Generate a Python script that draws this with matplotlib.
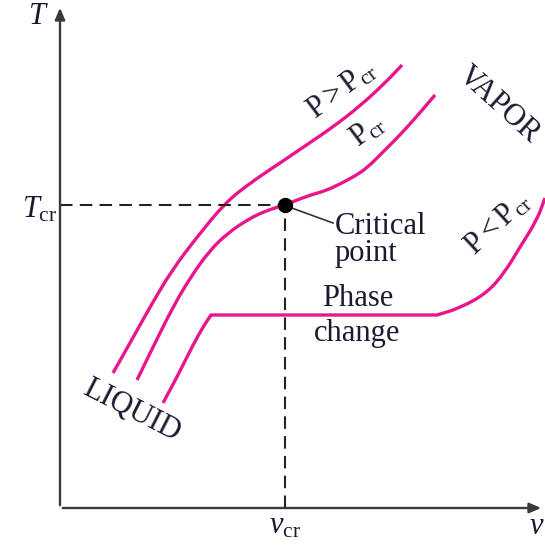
import matplotlib
matplotlib.use("Agg")
import matplotlib.pyplot as plt
from matplotlib.path import Path
from matplotlib.patches import PathPatch

plt.rcParams['font.family'] = ['Liberation Serif', 'DejaVu Serif']
plt.rcParams['mathtext.fontset'] = 'custom'
plt.rcParams['mathtext.rm'] = 'Liberation Serif'
plt.rcParams['mathtext.it'] = 'Liberation Serif:italic'

# isobars on the T-v diagram (arbitrary units)
v_super = [53, 70, 90, 112, 137, 165, 190, 220, 245, 273, 300, 325, 342]
T_super = [135, 165, 201, 238, 271, 305, 325, 345, 362, 381, 402, 425, 443]

v_crit = [77, 95, 113, 130, 150, 168, 187, 205, 225, 247, 265, 280, 295, 307, 325, 340, 358, 375]
T_crit = [128, 165, 201, 230, 258, 275, 288, 297, 303, 312, 317, 324, 332, 340, 358, 373, 393, 413]

v_sub = [103, 117, 133, 143, 151, 377, 400, 427, 445, 460, 477, 485]
T_sub = [105, 131, 163, 181, 193, 193, 200, 215, 236, 261, 288, 310]
sub_corners = [4, 5]  # ends of the flat phase-change segment

v_cr, T_cr = 225, 303

pink = '#e8168c'
ink = '#1a1a30'
axis_col = '#3a3a3a'


def smooth_path(v, T, corners=()):
    # quadratic segments through the midpoints, read points act as control points;
    # points listed in corners are kept as sharp vertices
    pts = list(zip(v, T))
    mid = lambda a, b: ((a[0] + b[0]) / 2, (a[1] + b[1]) / 2)
    verts = [pts[0], mid(pts[0], pts[1])]
    codes = [Path.MOVETO, Path.LINETO]
    for i in range(1, len(pts) - 1):
        if i in corners:
            verts += [pts[i], mid(pts[i], pts[i + 1])]
            codes += [Path.LINETO, Path.LINETO]
        else:
            verts += [pts[i], mid(pts[i], pts[i + 1])]
            codes += [Path.CURVE3, Path.CURVE3]
    verts.append(pts[-1])
    codes.append(Path.LINETO)
    return Path(verts, codes)


fig = plt.figure(figsize=(5.45, 5.52), dpi=100)
ax = fig.add_axes([60 / 545, 44 / 552, 485 / 545, 508 / 552])
ax.set_xlim(0, 485)
ax.set_ylim(0, 508)
ax.axis('off')

# axes with arrow heads
ax.annotate('', xy=(0, 503), xytext=(0, 0),
            arrowprops=dict(arrowstyle='-|>,head_length=0.7,head_width=0.3', lw=1.7, color=axis_col))
ax.annotate('', xy=(484, 0), xytext=(0, 0),
            arrowprops=dict(arrowstyle='-|>,head_length=0.7,head_width=0.3', lw=1.7, color=axis_col))

# dashed guides to the critical point
ax.plot([0, v_cr], [T_cr, T_cr], color='#222222', lw=1.5, dashes=(6, 3.5))
ax.plot([v_cr, v_cr], [0, T_cr], color='#222222', lw=1.5, dashes=(6, 3.5))

for v, T, corners in [(v_super, T_super, ()), (v_crit, T_crit, ()), (v_sub, T_sub, sub_corners)]:
    ax.add_patch(PathPatch(smooth_path(v, T, corners), facecolor='none', edgecolor=pink,
                           lw=2.4, capstyle='butt', joinstyle='round', clip_on=False))

ax.plot([v_cr], [T_cr], 'o', color='black', ms=10, zorder=5)
ax.plot([v_cr + 4, 273], [T_cr - 2, 285], color='#333333', lw=1.2)

fs = 22
ax.text(-22, 492, '$T$', fontsize=fs, color=ink, ha='center', va='center', clip_on=False)
ax.text(477, -18, '$v$', fontsize=fs, color=ink, ha='center', va='center', clip_on=False)
ax.text(-20, 298, r'$T_{\rm cr}$', fontsize=fs, color=ink, ha='center', va='center', clip_on=False)
ax.text(v_cr, -18, r'$v_{\rm cr}$', fontsize=fs, color=ink, ha='center', va='center', clip_on=False)

ax.text(275, 282, 'Critical', fontsize=fs, color=ink, ha='left', va='center')
ax.text(275, 254, 'point', fontsize=fs, color=ink, ha='left', va='center')
ax.text(298, 210, 'Phase', fontsize=fs, color=ink, ha='center', va='center')
ax.text(297, 174, 'change', fontsize=fs, color=ink, ha='center', va='center')

ax.text(282, 418, r'$\mathrm{P} > \mathrm{P}_{\rm cr}$', fontsize=fs, color=ink,
        rotation=37, ha='center', va='center', rotation_mode='anchor')
ax.text(308, 377, r'$\mathrm{P}_{\rm cr}$', fontsize=fs, color=ink,
        rotation=37, ha='center', va='center', rotation_mode='anchor')
ax.text(439, 403, 'VAPOR', fontsize=fs, color=ink,
        rotation=-42, ha='center', va='center', rotation_mode='anchor')
ax.text(438, 284, r'$\mathrm{P} < \mathrm{P}_{\rm cr}$', fontsize=fs, color=ink,
        rotation=43, ha='center', va='center', rotation_mode='anchor')
ax.text(72, 97, 'LIQUID', fontsize=fs, color=ink,
        rotation=-27, ha='center', va='center', rotation_mode='anchor')

fig.savefig('out.png', dpi=100)
